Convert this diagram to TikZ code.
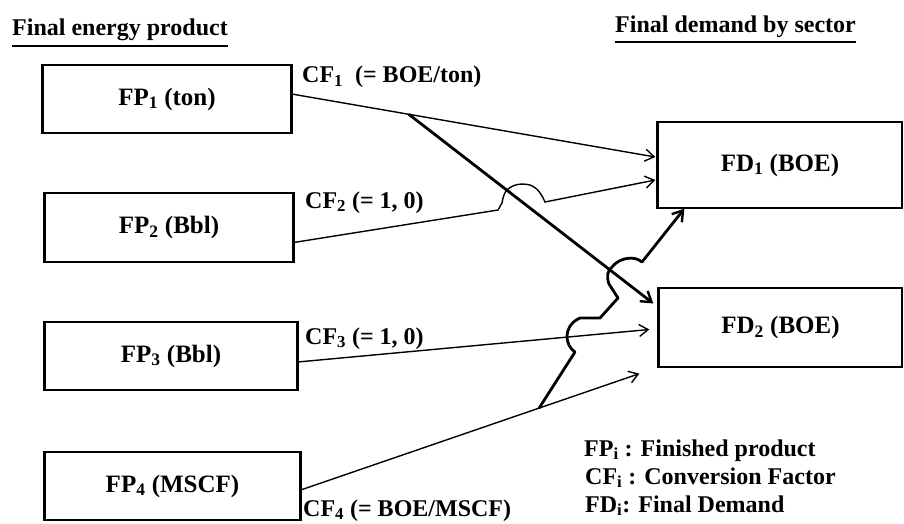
\documentclass[tikz,border=0pt]{standalone}
\usepackage{fontspec}
\setmainfont{Liberation Serif}
\usetikzlibrary{arrows.meta,calc}
\begin{document}
\begin{tikzpicture}[x=1pt,y=-1pt,
  box/.style={draw, line width=1.3pt, inner sep=0pt, font=\fontsize{25}{30}\selectfont\bfseries},
  lbl/.style={inner sep=0pt, anchor=base west, font=\fontsize{24}{28}\selectfont\bfseries},
  ttl/.style={inner sep=0pt, anchor=base west, font=\fontsize{24}{28}\selectfont\bfseries},
  lnthin/.style={line width=1.4pt},
  lnthick/.style={line width=2.8pt},
  tipthin/.style={-{Straight Barb[length=9pt,width=12pt,line width=1.4pt]}},
  tipthick/.style={-{Straight Barb[length=10pt,width=13pt,line width=2.4pt]}}
]
\useasboundingbox (0,0) rectangle (904,524);

% titles
\node[ttl] (t1) at (12,36) {Final energy product};
\draw[line width=1.2pt] ([yshift=-10pt]t1.base west) -- ([yshift=-10pt]t1.base east);
\node[ttl] (t2) at (615,33) {Final demand by sector};
\draw[line width=1.2pt] ([yshift=-9pt]t2.base west) -- ([yshift=-9pt]t2.base east);

% boxes
\node[box, minimum width=248pt, minimum height=68pt] (fp1) at (167,99) {FP\textsubscript{1} (ton)};
\node[box, minimum width=248pt, minimum height=69pt] (fp2) at (169,227.5) {FP\textsubscript{2} (Bbl)};
\node[box, minimum width=252pt, minimum height=68pt] (fp3) at (171,356) {FP\textsubscript{3} (Bbl)};
\node[box, minimum width=255pt, minimum height=68pt] (fp4) at (172.5,486) {FP\textsubscript{4} (MSCF)};
\node[box, minimum width=244pt, minimum height=86pt] (fd1) at (780,165) {FD\textsubscript{1} (BOE)};
\node[box, minimum width=243pt, minimum height=79pt] (fd2) at (780.5,327.5) {FD\textsubscript{2} (BOE)};

\foreach \n in {fp1,fp2,fp3,fp4}{
  \draw[line width=3pt] (\n.north west) -- (\n.south west);
  \draw[line width=2.4pt] (\n.north east) -- (\n.south east);
}
\foreach \n in {fd1,fd2}{
  \draw[line width=3pt] (\n.north west) -- (\n.south west);
}

% conversion factor labels
\node[lbl] (cf1) at (302,83) {CF\textsubscript{1}\ \ (= BOE/ton)};
\node[lbl] (cf2) at (305,208) {CF\textsubscript{2} (= 1, 0)};
\node[lbl] (cf3) at (305,344) {CF\textsubscript{3} (= 1, 0)};
\node[lbl] (cf4) at (303,516) {CF\textsubscript{4} (= BOE/MSCF)};

% legend
\node[lbl] (lg1) at (584,456) {FP\textsubscript{i} : Finished product};
\node[lbl] (lg2) at (585,484) {CF\textsubscript{i} : Conversion Factor};
\node[lbl] (lg3) at (585,512) {FD\textsubscript{i}: Final Demand};

% connector end points
\coordinate (a1) at ([yshift=5pt]fp1.east);
\coordinate (b1) at ([xshift=-2pt,yshift=8pt]fd1.west);
\coordinate (a3) at ([yshift=-15pt]fp2.east);
\coordinate (b3) at ([xshift=-2pt,yshift=-15pt]fd1.west);
\coordinate (a5) at ([yshift=-6pt]fp3.east);
\coordinate (b5) at ([xshift=-9pt,yshift=-2pt]fd2.west);
\coordinate (a6) at ([yshift=-4pt]fp4.east);
\coordinate (b6) at ([xshift=-19pt,yshift=-6pt]fd2.south west);
\coordinate (br1) at ($(a1)!0.322!(b1)$);
\coordinate (br6) at ($(a6)!0.704!(b6)$);

% hop waypoints
\coordinate (q1) at (498,210);
\coordinate (q2) at (502,203);
\coordinate (q3) at (507,190);
\coordinate (q4) at (530,185);
\coordinate (q5) at (545,202);

\coordinate (h1) at (575,352);
\coordinate (h2) at (580,318);
\coordinate (h3) at (600,318);
\coordinate (h4) at (618,298);
\coordinate (h5) at (609,284);
\coordinate (h6) at (612,267);
\coordinate (h7) at (642,262);

% connectors
\draw[lnthin, tipthin] (a1) -- (b1);
\draw[lnthick, tipthick] (br1) -- ([xshift=-5pt,yshift=24pt]fd2.west);
\draw[lnthin, tipthin] (a3) -- (q1) -- (q2)
   .. controls (503,196) and (505,192) .. (q3)
   .. controls (513,184) and (522,183) .. (q4)
   .. controls (538,188) and (542,195) .. (q5) -- (b3);
\draw[lnthin, tipthin] (a5) -- (b5);
\draw[lnthin, tipthin] (a6) -- (b6);
\draw[lnthick, tipthick, line join=round] (br6) -- (h1)
   .. controls (565,346) and (562,326) .. (h2) -- (h3) -- (h4) -- (h5)
   .. controls (606,276) and (608,270) .. (h6)
   .. controls (619,258) and (634,255) .. (h7) -- ([xshift=27pt]fd1.south west);
\end{tikzpicture}
\end{document}
